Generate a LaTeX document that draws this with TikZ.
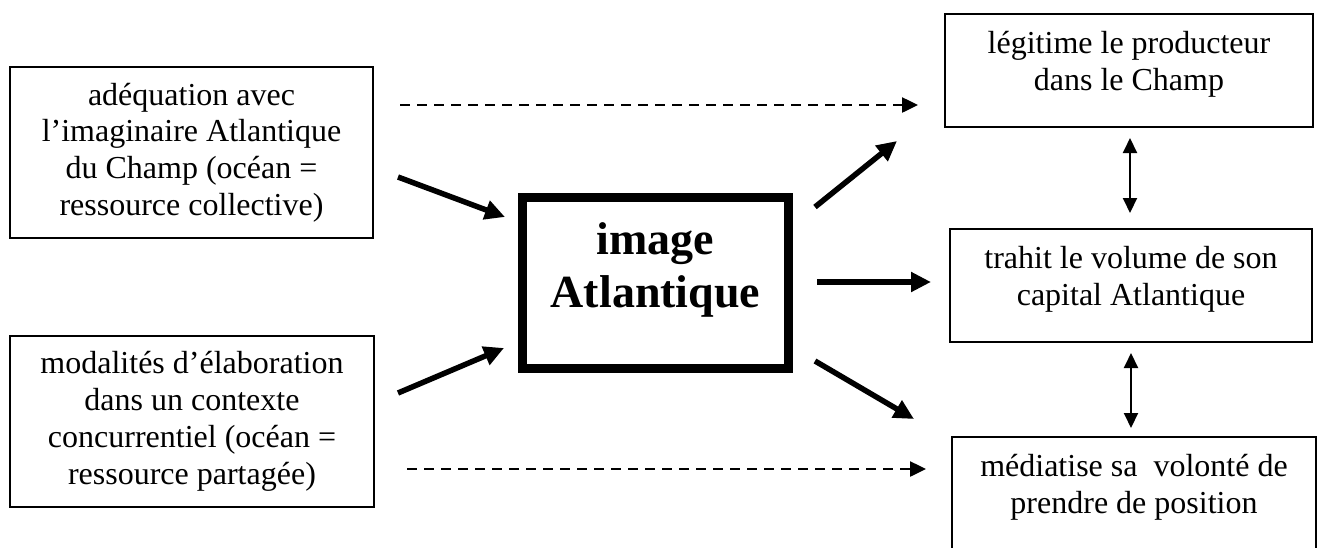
\documentclass[tikz,border=0pt]{standalone}
\usepackage{fontspec}
\setmainfont{Liberation Serif}
\usetikzlibrary{arrows.meta}
\begin{document}
\begin{tikzpicture}[x=1pt,y=-1pt,
  txtbox/.style={draw, line width=2pt, align=center, inner sep=0pt, font=\fontsize{32}{36.8}\selectfont},
  mainbox/.style={draw, line width=9pt, align=center, inner sep=0pt, font=\fontsize{46}{53}\selectfont\bfseries},
  bigarrow/.style={line width=5.5pt, -{Triangle[length=20pt,width=19pt]}},
  dasharrow/.style={line width=2.5pt, dash pattern=on 10pt off 7pt, -{Triangle[length=16pt,width=15pt]}},
  dblarrow/.style={line width=2pt, {Triangle[length=15pt,width=14pt]}-{Triangle[length=15pt,width=14pt]}}]
\useasboundingbox (0,0) rectangle (1323,547);
\clip (0,0) rectangle (1323,547);

\node[txtbox, minimum width=363pt, minimum height=171pt] (L1) at (191.5,152.5)
  {adéquation avec\\l’imaginaire Atlantique\\du Champ (océan =\\ressource collective)};
\node[txtbox, minimum width=364pt, minimum height=171pt] (L2) at (192,421.5)
  {modalités d’élaboration\\dans un contexte\\concurrentiel (océan =\\ressource partagée)};
\node[mainbox, minimum width=266pt, minimum height=171pt] (C) at (655.5,283)
  {image\\Atlantique\\[-17pt]\mbox{}};
\node[txtbox, minimum width=368pt, minimum height=113pt] (R1) at (1129,70.5)
  {légitime le producteur\\dans le Champ\\[-18pt]\mbox{}};
\node[txtbox, minimum width=362pt, minimum height=113pt] (R2) at (1131,285.5)
  {trahit le volume de son\\capital Atlantique\\[-18pt]\mbox{}};
\node[txtbox, minimum width=364pt, minimum height=113pt] (R3) at (1134,493.5)
  {médiatise sa~ volonté de\\prendre de position\\[-18pt]\mbox{}};

% connector end points
\coordinate (d1s) at (400,105);  \coordinate (d1e) at (918,105);
\coordinate (d2s) at (407,469);  \coordinate (d2e) at (926,469);
\coordinate (i1s) at (398,177);  \coordinate (i1e) at (505,217);
\coordinate (i2s) at (398,393);  \coordinate (i2e) at (504,348);
\coordinate (o1s) at (815,207);  \coordinate (o1e) at (897,141);
\coordinate (o2s) at (817,282);  \coordinate (o2e) at (931,282);
\coordinate (o3s) at (815,361);  \coordinate (o3e) at (914,419);
\coordinate (v1s) at (1130,138); \coordinate (v1e) at (1130,213);
\coordinate (v2s) at (1131,353); \coordinate (v2e) at (1131,428);

\draw[dasharrow] (d1s) -- (d1e);
\draw[dasharrow] (d2s) -- (d2e);
\draw[bigarrow] (i1s) -- (i1e);
\draw[bigarrow] (i2s) -- (i2e);
\draw[bigarrow] (o1s) -- (o1e);
\draw[bigarrow] (o2s) -- (o2e);
\draw[bigarrow] (o3s) -- (o3e);
\draw[dblarrow] (v1s) -- (v1e);
\draw[dblarrow] (v2s) -- (v2e);
\end{tikzpicture}
\end{document}
